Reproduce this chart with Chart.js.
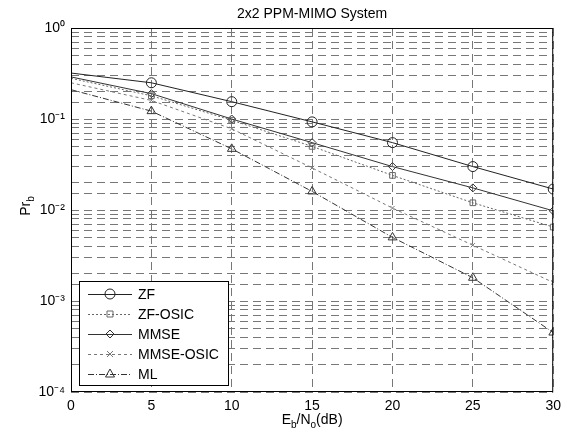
<!DOCTYPE html>
<html><head><meta charset="utf-8">
<script src="https://cdn.jsdelivr.net/npm/chart.js@4/dist/chart.umd.min.js"></script>
<style>html,body{margin:0;padding:0;background:#fff}#wrap{width:567px;height:437px}</style>
</head><body><div id="wrap"><canvas id="c" width="567" height="437"></canvas></div>
<script>
const snrDb = [0, 5, 10, 15, 20, 25, 30];
const zf       = [0.32, 0.25, 0.155, 0.093, 0.055, 0.030, 0.017];
const zfOsic   = [0.28, 0.18, 0.097, 0.050, 0.024, 0.012, 0.0065];
const mmse     = [0.29, 0.19, 0.100, 0.055, 0.030, 0.0175, 0.0098];
const mmseOsic = [0.25, 0.16, 0.078, 0.029, 0.0105, 0.0041, 0.0016];
const ml       = [0.21, 0.122, 0.047, 0.016, 0.0050, 0.0018, 0.00045];
const seriesNames = ['ZF', 'ZF-OSIC', 'MMSE', 'MMSE-OSIC', 'ML'];
const xTicks = [0, 5, 10, 15, 20, 25, 30];
const yTickLabels = ['10⁰', '10⁻¹', '10⁻²', '10⁻³', '10⁻⁴'];
const titleText = '2x2 PPM-MIMO System';

const FONT = "'Liberation Sans', Arial, Helvetica, sans-serif";
const styles = [
  {color:'#222', dash:[], ps:'circle', r:5},
  {color:'#666', dash:[2,2], ps:'rect', r:4},
  {color:'#333', dash:[], ps:'rectRot', r:4},
  {color:'#777', dash:[3,3], ps:'crossRot', r:3},
  {color:'#333', dash:[6,2,1,2], ps:'triangle', r:5}
];
const values = [zf, zfOsic, mmse, mmseOsic, ml];
const datasets = seriesNames.map((n, i) => ({
  label: n,
  data: snrDb.map((x, j) => ({x, y: values[i][j]})),
  borderColor: styles[i].color,
  borderWidth: 1,
  borderDash: styles[i].dash,
  pointStyle: styles[i].ps,
  markerSize: styles[i].r,
  pointRadius: snrDb.map(x => x === 0 ? 0 : styles[i].r),
  pointBorderColor: styles[i].color,
  pointBackgroundColor: 'rgba(0,0,0,0)',
  pointBorderWidth: 1,
  fill: false,
  tension: 0
}));

function drawMarker(ctx, ps, x, y, r) {
  ctx.beginPath();
  if (ps === 'circle') { ctx.arc(x, y, r, 0, Math.PI*2); }
  else if (ps === 'rect') { ctx.rect(x-r*0.75, y-r*0.75, r*1.5, r*1.5); }
  else if (ps === 'rectRot') { ctx.moveTo(x, y-r); ctx.lineTo(x+r, y); ctx.lineTo(x, y+r); ctx.lineTo(x-r, y); ctx.closePath(); }
  else if (ps === 'crossRot') { ctx.moveTo(x-r, y-r); ctx.lineTo(x+r, y+r); ctx.moveTo(x+r, y-r); ctx.lineTo(x-r, y+r); }
  else if (ps === 'triangle') { ctx.moveTo(x, y-r); ctx.lineTo(x+r*0.9, y+r*0.6); ctx.lineTo(x-r*0.9, y+r*0.6); ctx.closePath(); }
  ctx.stroke();
}

const decor = {
  id: 'decor',
  afterDatasetsDraw(chart) {
    const ctx = chart.ctx, a = chart.chartArea;
    ctx.save();
    ctx.strokeStyle = '#000'; ctx.lineWidth = 1; ctx.setLineDash([]);
    ctx.strokeRect(a.left + 0.5, a.top + 0.5, a.right - a.left - 1, a.bottom - a.top - 1);
    // title
    ctx.fillStyle = '#000';
    ctx.font = '14px ' + FONT;
    ctx.textAlign = 'center'; ctx.textBaseline = 'middle';
    ctx.fillText(titleText, (a.left + a.right) / 2, 14);
    // x title with subscripts
    const parts = [['E',0],['b',1],['/N',0],['o',1],['(dB)',0]];
    const big = '14px ' + FONT, small = '10px ' + FONT;
    let w = 0;
    parts.forEach(p => { ctx.font = p[1] ? small : big; w += ctx.measureText(p[0]).width; });
    let x = (a.left + a.right) / 2 - w / 2;
    ctx.textAlign = 'left'; ctx.textBaseline = 'alphabetic';
    parts.forEach(p => { ctx.font = p[1] ? small : big; ctx.fillText(p[0], x, p[1] ? 428 : 424); x += ctx.measureText(p[0]).width; });
    // y title
    ctx.save();
    ctx.translate(30, (a.top + a.bottom) / 2 - 4);
    ctx.rotate(-Math.PI / 2);
    ctx.font = big; const w1 = ctx.measureText('Pr').width;
    ctx.font = small; const w2 = ctx.measureText('b').width;
    ctx.font = big; ctx.fillText('Pr', -(w1 + w2) / 2, 0);
    ctx.font = small; ctx.fillText('b', -(w1 + w2) / 2 + w1, 4);
    ctx.restore();
    // legend
    const lx = 79, ly = 281, lw = 149, lh = 104;
    ctx.fillStyle = '#fff';
    ctx.fillRect(lx, ly, lw, lh);
    ctx.strokeStyle = '#000';
    ctx.strokeRect(lx + 0.5, ly + 0.5, lw, lh);
    chart.data.datasets.forEach((ds, i) => {
      const yy = ly + 13 + i * 20;
      ctx.strokeStyle = ds.borderColor; ctx.lineWidth = 1;
      ctx.setLineDash(ds.borderDash);
      ctx.beginPath(); ctx.moveTo(lx + 9, yy + 0.5); ctx.lineTo(lx + 53, yy + 0.5); ctx.stroke();
      ctx.setLineDash([]);
      drawMarker(ctx, ds.pointStyle, lx + 31, yy, ds.markerSize);
      ctx.fillStyle = '#000'; ctx.font = '14px ' + FONT;
      ctx.textAlign = 'left'; ctx.textBaseline = 'middle';
      ctx.fillText(ds.label, lx + 59, yy + 1);
    });
    ctx.restore();
  }
};

new Chart(document.getElementById('c'), {
  type: 'line',
  data: { datasets },
  options: {
    responsive: false, animation: false, devicePixelRatio: 1,
    layout: { padding: { left: 0, top: 28, right: 12, bottom: 0 } },
    plugins: { legend: { display: false }, title: { display: false }, tooltip: { enabled: false } },
    scales: {
      x: {
        type: 'linear', min: 0, max: 30,
        afterBuildTicks(s) { s.ticks = xTicks.map(v => ({value: v})); },
        ticks: { font: { family: FONT, size: 14 }, color: '#000', padding: 6, maxRotation: 0 },
        grid: { color: '#777', lineWidth: 1, drawTicks: false },
        border: { display: false, dash: [8, 5] },
        afterFit(s) { s.height = 45; }
      },
      y: {
        type: 'logarithmic', min: 1e-4, max: 1,
        ticks: {
          autoSkip: false, font: { family: FONT, size: 14 }, color: '#000', padding: 6,
          callback(v) {
            const e = Math.log10(v);
            if (Math.abs(e - Math.round(e)) < 1e-6) return yTickLabels[-Math.round(e)];
            return '';
          }
        },
        grid: { color: '#777', lineWidth: 1, drawTicks: false },
        border: { display: false, dash: [8, 5] },
        afterFit(s) { s.width = 71; }
      }
    }
  },
  plugins: [decor]
});
</script></body></html>
